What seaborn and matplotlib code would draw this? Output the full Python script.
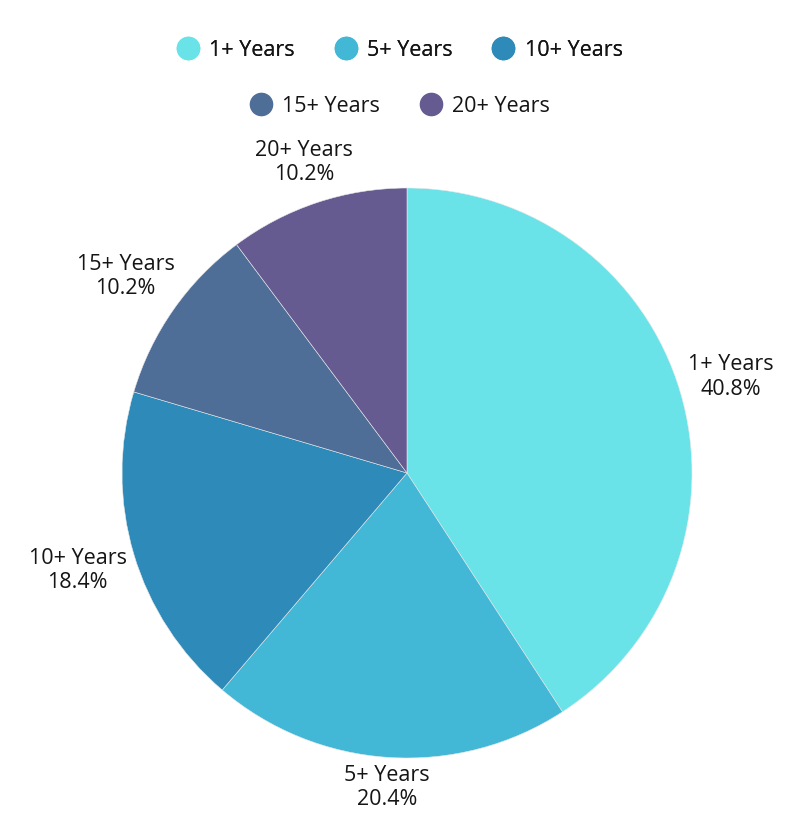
import numpy as np
import matplotlib
matplotlib.use("Agg")
import matplotlib.pyplot as plt
import seaborn as sns
from matplotlib.lines import Line2D

# 경력 구간별 인원 수
categories = ["1+ Years", "5+ Years", "10+ Years", "15+ Years", "20+ Years"]
counts = [20, 10, 9, 5, 5]
colors = ["#6AE3E8", "#43B7D6", "#2E8AB8", "#4E6E98", "#655B90"]

sns.set_theme(style="white")
plt.rcParams['font.family'] = ['Open Sans', 'DejaVu Sans']
palette = sns.color_palette(colors)
FS = 15.5

fig = plt.figure(figsize=(7.99, 8.33), dpi=100)
W, H = 799, 833
cx, cy, r = 407, 473, 285
ax = fig.add_axes([(cx - r) / W, (H - cy - r) / H, 2 * r / W, 2 * r / H])

wedges, _ = ax.pie(counts, colors=palette, startangle=90, counterclock=False,
                   radius=1, wedgeprops=dict(linewidth=0.4, edgecolor="#e8e8e8"))
ax.set_xlim(-1, 1)
ax.set_ylim(-1, 1)
ax.set_aspect("equal")
ax.axis("off")

# 라벨: 조각 중앙 각도 방향으로, 텍스트 박스가 원 바깥에 붙도록 배치
total = sum(counts)
renderer = fig.canvas.get_renderer()
for w, cat, n in zip(wedges, categories, counts):
    ang = np.deg2rad((w.theta1 + w.theta2) / 2)
    dx, dy = np.cos(ang), np.sin(ang)
    t = ax.text(dx, dy, f"{cat}\n{n / total * 100:.1f}%",
                ha="center", va="center", multialignment="center",
                fontsize=FS, color="#151515", linespacing=1.2, clip_on=False)
    bb = t.get_window_extent(renderer)
    ext = abs(dx) * bb.width / 2 + abs(dy) * bb.height / 2
    d = (r + 5 + ext) / r
    t.set_position((d * dx, d * dy))

handles = [Line2D([], [], marker="o", linestyle="", markersize=16,
                  markerfacecolor=c, markeredgecolor=c) for c in palette]
kw = dict(loc="center", frameon=False, fontsize=FS, handletextpad=0.45,
          columnspacing=1.8, handlelength=1.1, labelcolor="#151515")
leg1 = fig.legend(handles[:3], categories[:3], ncol=3,
                  bbox_to_anchor=(0.5, 1 - 50 / H), **kw)
fig.add_artist(leg1)
fig.legend(handles[3:], categories[3:], ncol=2,
           bbox_to_anchor=(0.5, 1 - 106 / H), **kw)

fig.savefig("out.png", dpi=100, facecolor="white")
